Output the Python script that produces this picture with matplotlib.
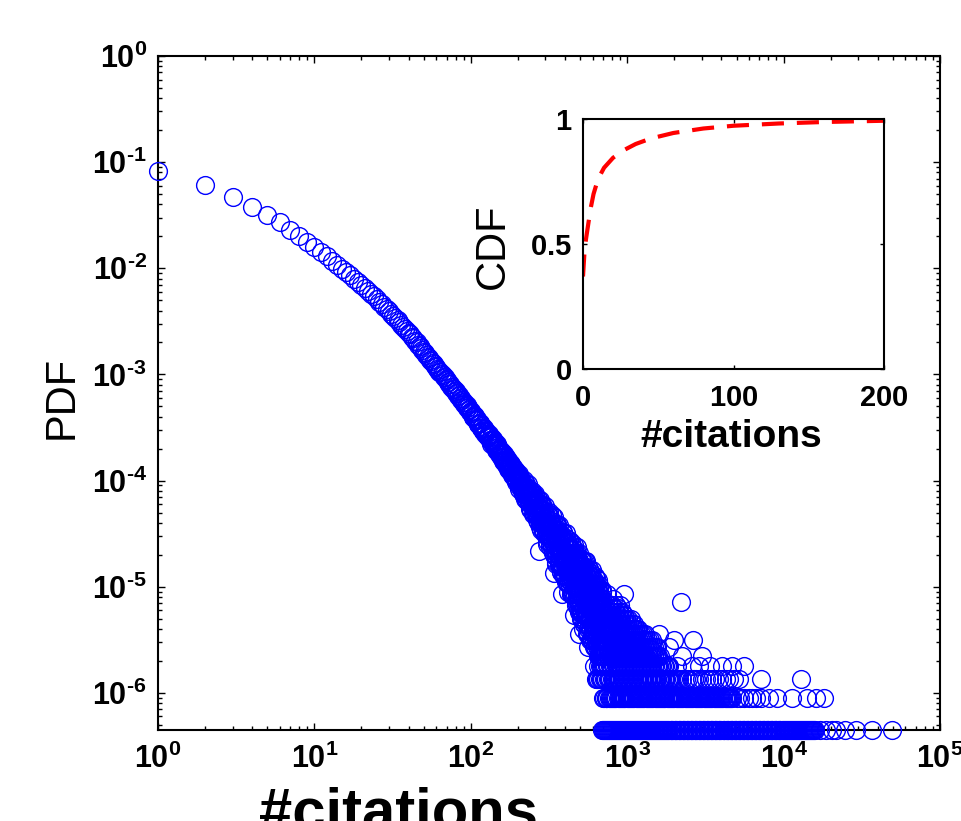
import numpy as np
import matplotlib
matplotlib.use("Agg")
import matplotlib.pyplot as plt
from matplotlib.ticker import LogLocator, NullFormatter

plt.rcParams['font.family'] = ['Liberation Sans', 'DejaVu Sans']
plt.rcParams['mathtext.fontset'] = 'custom'
plt.rcParams['mathtext.rm'] = 'Liberation Sans:bold'
plt.rcParams['mathtext.it'] = 'Liberation Sans:italic:bold'
plt.rcParams['mathtext.bf'] = 'Liberation Sans:bold'

# ---------------- data ----------------
N_papers = 2.24e6          # count 1  ->  pdf = 1/N (bottom row)

# k = 1..40 : pdf
head_pdf = [0.0820, 0.0614, 0.0469, 0.0377, 0.0320, 0.0272, 0.0227, 0.0200, 0.0177, 0.0158,
            0.01426, 0.01294, 0.01180, 0.01081, 0.00995, 0.00920, 0.00855, 0.00796, 0.00743, 0.00695,
            0.00652, 0.00612, 0.00575, 0.00543, 0.00513, 0.00485, 0.00459, 0.00436, 0.00413, 0.00393,
            0.00373, 0.00356, 0.00339, 0.00324, 0.00309, 0.00295, 0.00282, 0.00270, 0.00259, 0.00248]

# k = 41..100 : pdf (x 1e-3)
mid1_pdf_e3 = [2.38, 2.26, 2.18, 2.07, 2.01, 1.91, 1.85, 1.76, 1.71, 1.63,
               1.59, 1.52, 1.47, 1.44, 1.37, 1.34, 1.28, 1.26, 1.20, 1.18,
               1.12, 1.11, 1.06, 1.05, 1.00, 0.992, 0.948, 0.940, 0.897, 0.889,
               0.850, 0.846, 0.806, 0.805, 0.768, 0.765, 0.729, 0.731, 0.697, 0.695,
               0.664, 0.666, 0.631, 0.634, 0.601, 0.606, 0.573, 0.578, 0.548, 0.555,
               0.522, 0.531, 0.499, 0.510, 0.478, 0.488, 0.458, 0.470, 0.439, 0.451]

# k = 102..198 step 2 : pdf (x 1e-3)
mid2_pdf_e3 = [0.431, 0.398, 0.402, 0.369, 0.375, 0.341, 0.350, 0.316, 0.328, 0.294,
               0.307, 0.277, 0.289, 0.258, 0.273, 0.241, 0.257, 0.228, 0.243, 0.213,
               0.231, 0.201, 0.219, 0.188, 0.207, 0.176, 0.196, 0.167, 0.186, 0.157,
               0.178, 0.149, 0.169, 0.140, 0.161, 0.134, 0.155, 0.126, 0.147, 0.121,
               0.140, 0.114, 0.135, 0.109, 0.129, 0.104, 0.123, 0.099, 0.118]

# k = 101..199 step 2 : pdf (x 1e-3)
mid3_pdf_e3 = [0.439, 0.401, 0.418, 0.382, 0.381, 0.340, 0.347, 0.345, 0.313, 0.295,
               0.316, 0.289, 0.290, 0.261, 0.265, 0.271, 0.243, 0.222, 0.238, 0.247,
               0.212, 0.222, 0.192, 0.216, 0.194, 0.200, 0.173, 0.183, 0.191, 0.165,
               0.153, 0.172, 0.157, 0.167, 0.1425, 0.1506, 0.129, 0.140, 0.145, 0.124,
               0.1437, 0.1227, 0.1297, 0.1109, 0.1194, 0.1253, 0.1069, 0.0979, 0.1118, 0.1124]

# k = 200..398 step 3 : paper counts
band1_count = [233, 197, 241, 199, 215, 167, 191, 201, 165, 149, 194, 159, 170, 136, 148, 166, 131, 109,
               139, 161, 111, 133, 96, 137, 109, 124, 90, 108, 128, 90, 77, 110, 90, 111, 76, 91, 61,
               82, 95, 64, 101, 67, 82, 55, 70, 85, 56, 45, 69, 72, 67, 43, 83, 51, 68, 36, 55, 67,
               42, 34, 70, 45, 56, 34, 44, 61, 37]
# k = 201..399 step 3
band1b_count = [243, 187, 218, 233, 188, 172, 227, 178, 193, 144, 173, 186, 141, 120, 160, 180, 133, 138,
                109, 151, 135, 103, 150, 104, 113, 148, 81, 117, 96, 125, 76, 110, 83, 130, 71, 88, 56,
                111, 67, 83, 58, 87, 67, 106, 47, 74, 55, 88, 63, 37, 77, 46, 87, 50, 64, 37, 72, 50,
                31, 63, 52, 35, 73, 38, 60, 28, 45]
# k = 202..397 step 3
band1c_count = [257, 201, 216, 180, 223, 187, 199, 151, 206, 161, 207, 142, 156, 171, 117, 151, 167, 124,
                111, 168, 121, 136, 92, 121, 136, 94, 76, 114, 135, 91, 97, 72, 110, 97, 69, 112, 71,
                80, 113, 53, 86, 68, 94, 52, 83, 59, 102, 49, 64, 38, 87, 47, 62, 64, 38, 85, 47, 67,
                31, 52, 67, 37, 29, 72, 42, 55]

# k = 400..700 step 2 : paper counts
band2_count = [49, 29, 65, 37, 52, 25, 41, 53, 31, 24, 58, 35, 46, 26, 36, 53, 29, 19, 38, 59,
               25, 40, 19, 47, 29, 41, 20, 33, 51, 24, 18, 41, 28, 46, 21, 32, 15, 28, 39, 18,
               47, 22, 33, 16, 27, 39, 19, 13, 29, 33,
               20, 34, 13, 24, 41, 16, 27, 11, 35, 17, 21, 29, 12, 23, 15, 35, 10, 26, 18, 39,
               12, 22, 14, 29, 10, 20, 24, 12, 32, 15, 22, 8, 25, 14, 29, 10, 17, 33, 11, 15,
               19, 9, 30, 13, 22, 7, 16, 23, 10, 7, 26, 13, 19, 8, 13, 23, 10, 6, 15, 28,
               8, 17, 6, 21, 11, 18, 7, 14, 24, 9, 6, 18, 11, 21, 8, 14, 5, 11, 18, 7,
               23, 9, 15, 6, 11, 19, 7, 5, 13, 15,
               8, 16, 5, 10, 20, 6, 12, 4, 16, 7, 9]
# k = 401..699 step 2
band2b_count = [29, 53, 37, 72, 25, 46, 32, 60, 39, 20, 53, 28, 62, 32, 43, 23, 51, 33, 19, 45,
                36, 23, 54, 26, 44, 19, 33, 55, 23, 34, 19, 45, 27, 36, 16, 46, 23, 53, 19, 26,
                37, 14, 29, 41, 20, 16, 47, 22, 31, 13, 26, 35, 16, 11, 27, 40, 19, 22, 13, 31,
                25, 14, 35, 16, 20, 38, 10, 25, 17, 31, 11, 26, 15, 39, 12, 19, 8, 32, 13, 20,
                14, 27, 9, 18, 33, 11, 20, 7, 27, 12, 15, 23, 9, 17, 11, 28, 7, 20, 13, 32,
                9, 17, 10, 23, 7, 15, 19, 8, 26, 11, 17, 6, 20, 10, 23, 7, 13, 27, 8, 11,
                7, 16, 10, 26, 6, 14, 8, 20, 11, 5, 18, 7, 22, 9, 14, 6, 18, 10, 5, 15,
                11, 6, 20, 7, 15, 5, 10, 21, 6, 11]

# isolated low points under the band
outlier_cit = [274, 385, 494, 520, 455, 610, 560, 338]
outlier_count = [49, 19, 8, 9, 12, 4, 6, 30]

# tail: citation values having a given paper count
tail_counts = [1, 2, 3, 4, 5, 6, 7, 8, 9, 10, 11, 12, 13, 14, 15, 16, 17, 19]
tail_cits = [
    [690, 709, 733, 752, 779, 798, 826, 846, 877, 896, 930, 951, 987, 1008, 1047, 1071, 1112, 1136,
     1179, 1203, 1251, 1279, 1327, 1356, 1408, 1439, 1494, 1527, 1585, 1619, 1681, 1718, 1783, 1822,
     1892, 1933, 2007, 2051, 2130, 2176, 2260, 2309, 2398, 2449, 2544, 2598, 2699, 2756, 2864, 2925,
     3039, 3103, 3224, 3292, 3420, 3493, 3629, 3706, 3850, 3932, 4085, 4171, 4334, 4426, 4598, 4695,
     4879, 4982, 5176, 5285, 5492, 5608, 5827, 5950, 6182, 6313, 6559, 6698, 6959, 7106, 7383, 7539,
     7833, 7999, 8311, 8487, 8818, 9004, 9356, 9553, 9927, 10136, 10532, 10754, 11175, 11410, 11857,
     12106, 12580, 12845, 13347, 13628, 14161, 14459, 15025, 15341, 15941, 17100, 18600, 20400,
     21500, 24700, 29100, 36800, 49400,
     700, 721, 742, 765, 788, 812, 836, 861, 886, 913, 940, 969, 997, 1027, 1059, 1091, 1124, 1157,
     1191, 1227, 1265, 1303, 1341, 1382, 1423, 1466, 1510, 1556, 1602, 1650, 1699, 1750, 1802, 1857,
     1912, 1970, 2029, 2090, 2153, 2218, 2284, 2353, 2423, 2496, 2571, 2648, 2727, 2810, 2894, 2981,
     3071, 3163, 3258, 3356, 3456, 3561, 3667, 3778, 3891, 4008, 4128, 4252, 4380, 4512, 4646, 4787,
     4930, 5079, 5230, 5388, 5550, 5717, 5888, 6065, 6247, 6436, 6628, 6828, 7032, 7244, 7461, 7686,
     7916, 8155, 8399, 8652, 8911, 9180, 9454, 9740, 10031, 10334, 10643, 10964, 11292, 11633, 11981,
     12343, 12712, 13096, 13487, 13894, 14310, 14742, 15183, 15641],
    [701, 727, 748, 776, 799, 829, 853, 885, 911, 945, 973, 1009, 1039, 1077, 1110, 1150, 1185, 1228,
     1265, 1311, 1351, 1400, 1443, 1495, 1541, 1597, 1645, 1705, 1757, 1821, 1876, 1944, 2003, 2076,
     2139, 2217, 2284, 2367, 2439, 2528, 2604, 2699, 2781, 2882, 2970, 3078, 3171, 3287, 3386, 3510,
     3616, 3748, 3861, 4003, 4123, 4274, 4403, 4564, 4702, 5300, 6000, 6620, 7130, 8050, 9100,
     11350, 14150, 16000, 18200,
     714, 737, 762, 787, 814, 841, 869, 898, 928, 959, 991, 1024, 1058, 1093, 1130, 1167, 1206, 1246,
     1288, 1331, 1375, 1421, 1469, 1518, 1569, 1621, 1675, 1731, 1789, 1848, 1910, 1973, 2039, 2107,
     2178, 2250, 2325, 2403, 2483, 2566, 2651, 2740, 2831, 2926, 3024, 3124, 3229, 3336, 3448, 3563,
     3682, 3804, 3932, 4063, 4198, 4338, 4483, 4633, 5000, 5600, 6300],
    [632, 655, 683, 708, 736, 764, 795, 822, 856, 887, 921, 956, 993, 1031, 1069, 1112, 1153, 1197,
     1244, 1290, 1341, 1392, 1445, 1501, 1558, 1617, 1680, 1744, 1810, 1879, 1951, 2084, 2377, 2594,
     2754, 2877, 3192, 3483, 3864, 4036, 4285, 4477, 4819, 5188, 7180, 13000,
     643, 669, 695, 722, 750, 779, 808, 839, 871, 904, 938, 974, 1012, 1050, 1090, 1132, 1175, 1220,
     1267, 1315, 1366, 1418, 1473, 1529, 1587, 1648, 1712, 1777, 1844, 1915, 2020, 2150, 2230, 2460,
     2680, 3000, 3320, 3650],
    [652, 681, 712, 741, 774, 806, 842, 877, 915, 953, 995, 1036, 1082, 1127, 1176, 1225, 1279, 1332,
     1390, 1448, 1511, 1574, 1643, 1711, 1786, 1860, 2080, 2600, 2880, 3400, 4050, 4700, 5570,
     666, 696, 726, 757, 790, 824, 859, 896, 934, 974, 1015, 1059, 1104, 1151, 1200, 1252, 1305, 1361,
     1419, 1479, 1542, 1608, 1677, 1748, 1823],
    [661, 694, 722, 759, 790, 830, 864, 908, 945, 993, 1034, 1086, 1131, 1188, 1237, 1300, 1353, 1422,
     1480, 1556, 1612, 2240, 2990,
     677, 708, 740, 774, 810, 847, 886, 926, 969, 1013, 1060, 1108, 1159, 1212, 1268, 1326, 1387,
     1451, 1518, 1584],
    [668, 703, 738, 776, 815, 857, 900, 946, 994, 1045, 1098, 1154, 1213, 1275, 1340, 1408, 1480,
     1555, 1850,
     685, 720, 757, 795, 836, 878, 923, 970, 1019, 1071, 1126, 1183, 1244, 1307, 1374, 1444, 1517],
    [676, 714, 752, 795, 838, 885, 933, 985, 1039, 1097, 1157, 1221, 1289, 1360, 1435, 1990, 2630,
     695, 733, 773, 816, 861, 909, 959, 1012, 1068, 1127, 1189, 1255, 1324, 1397],
    [684, 726, 769, 816, 865, 917, 973, 1031, 1094, 1160, 1230, 1305, 1600,
     705, 747, 792, 840, 891, 945, 1002, 1062, 1127, 1195, 1267],
    [693, 739, 787, 839, 894, 953, 1016, 1083, 1154, 1180, 716, 763, 813, 866, 923, 984, 1049, 1118],
    [706, 757, 811, 869, 931, 998, 1069, 1100, 731, 784, 840, 900, 964, 1033],
    [719, 778, 842, 911, 986, 1050, 748, 810, 876, 948, 1018],
    [735, 803, 877, 958, 769, 840, 917],
    [752, 836, 929, 712, 794, 882],
    [771, 870, 735, 820],
    [794, 905, 760, 850],
    [718, 2200],
    [815],
    [745, 960],
]

# inset CDF
cdf_cit = [0, 1, 2, 3, 5, 7, 10, 14, 20, 27, 35, 45, 60, 80, 100, 130, 160, 200]
cdf_val = [0.37, 0.47, 0.52, 0.56, 0.64, 0.70, 0.76, 0.805, 0.845, 0.875, 0.90, 0.922, 0.944,
           0.962, 0.973, 0.982, 0.988, 0.993]

# ---------------- assemble points ----------------
xs = [np.arange(1, 41), np.arange(41, 101), np.arange(102, 200, 2), np.arange(101, 200, 2),
      np.arange(200, 400, 3), np.arange(201, 400, 3), np.arange(202, 400, 3),
      np.arange(400, 701, 2), np.arange(401, 700, 2), np.array(outlier_cit)]
ys = [np.array(head_pdf), np.array(mid1_pdf_e3) * 1e-3, np.array(mid2_pdf_e3) * 1e-3,
      np.array(mid3_pdf_e3) * 1e-3,
      np.array(band1_count) / N_papers, np.array(band1b_count) / N_papers,
      np.array(band1c_count) / N_papers,
      np.array(band2_count) / N_papers, np.array(band2b_count) / N_papers,
      np.array(outlier_count) / N_papers]
for c, ks in zip(tail_counts, tail_cits):
    xs.append(np.array(ks))
    ys.append(np.full(len(ks), c / N_papers))
x_all = np.concatenate(xs)
y_all = np.concatenate(ys)

W, H = 961, 821
fig = plt.figure(figsize=(W / 100, H / 100), dpi=100)

def fx(px):
    return px / W

def fy(py):
    return 1 - py / H

ax = fig.add_axes([fx(158), fy(730), fx(940) - fx(158), fy(56) - fy(730)])
ax.plot(x_all, y_all, 'o', mfc='none', mec=(0, 0, 1), ms=12.8, mew=1.0, clip_on=False, zorder=3)
ax.set_xscale('log')
ax.set_yscale('log')
ax.set_xlim(1, 1e5)
ax.set_ylim(1 / N_papers, 1)

xt = [1, 10, 100, 1000, 1e4, 1e5]
ax.set_xticks(xt)
ax.set_xticklabels([r'$\mathbf{10^{%d}}$' % i for i in range(6)])
yt = [1e-6, 1e-5, 1e-4, 1e-3, 1e-2, 1e-1, 1]
ax.set_yticks(yt)
ax.set_yticklabels([r'$\mathbf{10^{\text{-}%d}}$' % i for i in range(6, 0, -1)] + [r'$\mathbf{10^{0}}$'])
ax.xaxis.set_minor_locator(LogLocator(base=10, subs=np.arange(2, 10), numticks=20))
ax.yaxis.set_minor_locator(LogLocator(base=10, subs=np.arange(2, 10), numticks=20))
ax.xaxis.set_minor_formatter(NullFormatter())
ax.yaxis.set_minor_formatter(NullFormatter())
ax.tick_params(which='both', direction='in', top=True, right=True, width=1.0, colors='black')
ax.tick_params(which='major', length=5, labelsize=22)
ax.tick_params(which='minor', length=3)
ax.tick_params(axis='x', which='major', pad=10)
ax.tick_params(axis='y', which='major', pad=8)
for s in ax.spines.values():
    s.set_linewidth(1.5)

fig.text(fx(62), fy(397), 'PDF', rotation=90, ha='center', va='center', fontsize=30)
fig.text(fx(398), fy(829), '#citations', ha='center', va='baseline', fontsize=43, fontweight='bold')

# ---------------- inset ----------------
ax2 = fig.add_axes([fx(583), fy(369), fx(884) - fx(583), fy(119) - fy(369)])
ax2.plot(cdf_cit, cdf_val, '--', color=(1, 0, 0), lw=3, dashes=(5.3, 3.1))
ax2.set_xlim(0, 200)
ax2.set_ylim(0, 1)
ax2.set_xticks([0, 100, 200])
ax2.set_xticklabels([r'$\mathbf{0}$', r'$\mathbf{100}$', r'$\mathbf{200}$'])
ax2.set_yticks([0, 0.5, 1])
ax2.set_yticklabels([r'$\mathbf{0}$', r'$\mathbf{0.5}$', r'$\mathbf{1}$'])
ax2.tick_params(direction='in', top=True, right=True, length=3, width=1.0, labelsize=21)
ax2.tick_params(axis='x', pad=11)
ax2.tick_params(axis='y', pad=8)
for s in ax2.spines.values():
    s.set_linewidth(1.5)
fig.text(fx(493), fy(246), 'CDF', rotation=90, ha='center', va='center', fontsize=30)
fig.text(fx(731), fy(437), '#citations', ha='center', va='center', fontsize=28, fontweight='bold')

fig.savefig('out.png', dpi=100)
